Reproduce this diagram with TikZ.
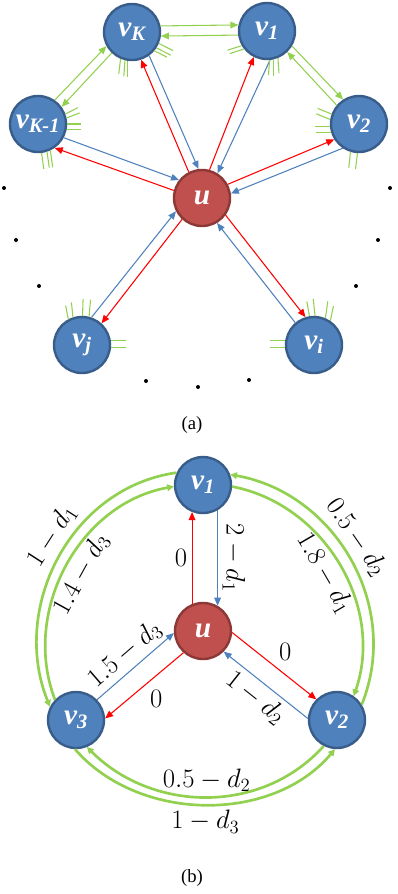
\RequirePackage{fix-cm}
\documentclass[tikz,border=0pt]{standalone}
\usepackage[no-math]{fontspec}
\setmainfont{Liberation Serif}
\usepackage{xcolor}
\usepackage{tikz}
\usetikzlibrary{arrows.meta}

\definecolor{nodeblue}{RGB}{79,129,189}
\definecolor{nodeedge}{RGB}{56,93,138}
\definecolor{hubred}{RGB}{192,80,77}
\definecolor{hubedge}{RGB}{140,56,54}
\definecolor{lgreen}{RGB}{146,208,80}

\begin{document}
\begin{tikzpicture}[x=0.75pt, y=0.75pt,
  vtx/.style={circle, draw=nodeedge, fill=nodeblue, line width=1.8pt,
              minimum size=42pt, inner sep=0pt, text=white,
              font=\fontsize{22}{26}\selectfont\bfseries\itshape},
  hub/.style={vtx, draw=hubedge, fill=hubred},
  rarw/.style={-{Triangle[length=6pt,width=5pt]}, red, line width=0.8pt},
  barw/.style={-{Triangle[length=6pt,width=5pt]}, nodeblue, line width=0.8pt},
  garw/.style={-{Triangle[length=6pt,width=5pt]}, lgreen, line width=0.8pt},
  garc/.style={-{Triangle[length=5pt,width=5pt]}, lgreen, line width=2pt},
  gstub/.style={lgreen, line width=0.8pt},
  lbl/.style={font=\fontsize{20}{24}\selectfont, text=black},
  captxt/.style={font=\fontsize{14}{17}\selectfont}]
  \useasboundingbox (0,0) rectangle (398,-894);

  % (a) star around u
  \node[vtx] (vK)  at (132,-32)  {v\textsubscript{K}};
  \node[vtx] (v1)  at (267,-31)  {v\textsubscript{1}};
  \node[vtx] (vKm) at (38,-124)  {v\textsubscript{K-1}};
  \node[vtx] (v2)  at (359,-124) {v\textsubscript{2}};
  \node[hub] (u)   at (202,-198) {u};
  \node[vtx] (vj)  at (82,-345)  {v\textsubscript{j}};
  \node[vtx] (vi)  at (314,-345) {v\textsubscript{i}};

  \draw[garw] (vK.12) -- (v1.168);
  \draw[garw] (v1.188) -- (vK.-8);
  \draw[garw] (vKm.55) -- (vK.209);
  \draw[garw] (vK.226) -- (vKm.36);
  \draw[garw] (v1.-31) -- (v2.123);
  \draw[garw] (v2.140) -- (v1.-46);

  \draw[rarw] (u.117) -- (vK.-72);
  \draw[barw] (vK.-54) -- (u.97);
  \draw[rarw] (u.75) -- (v1.-117);
  \draw[barw] (v1.-84) -- (u.58);
  \draw[rarw] (u.165) -- (vKm.-55);
  \draw[barw] (vKm.-28) -- (u.142);
  \draw[rarw] (u.28) -- (v2.212);
  \draw[barw] (v2.236) -- (u.9);
  \draw[rarw] (u.227) -- (vj.48);
  \draw[barw] (vj.71) -- (u.207);
  \draw[rarw] (u.-36) -- (vi.107);
  \draw[barw] (vi.130) -- (u.-59);

  % stubs of the hidden edges
  \draw[gstub] (vK.-23) -- ++(-27:16);
  \draw[gstub] (vK.-33) -- ++(-27:16);
  \draw[gstub] (vK.-40) -- ++(-27:14);
  \draw[gstub] (vK.-113) -- ++(-97:15);
  \draw[gstub] (vK.-104) -- ++(-94:16);
  \draw[gstub] (vK.-98) -- ++(-90:16);
  \draw[gstub] (v1.-150) -- ++(198:15);
  \draw[gstub] (v1.-142) -- ++(198:15);
  \draw[gstub] (v1.-85) -- ++(-94:15);
  \draw[gstub] (v1.-78) -- ++(-90:16);
  \draw[gstub] (v1.-68) -- ++(-86:15);
  \draw[gstub] (vKm.20) -- ++(27:14);
  \draw[gstub] (vKm.12) -- ++(21:14);
  \draw[gstub] (vKm.0) -- ++(0:14);
  \draw[gstub] (vKm.-11) -- ++(0:14);
  \draw[gstub] (vKm.-83) -- ++(-82:16);
  \draw[gstub] (vKm.-72) -- ++(-82:16);
  \draw[gstub] (vKm.-65) -- ++(-82:17);
  \draw[gstub] (v2.160) -- ++(158:15);
  \draw[gstub] (v2.171) -- ++(158:15);
  \draw[gstub] (v2.185) -- ++(180:15);
  \draw[gstub] (v2.196) -- ++(180:15);
  \draw[gstub] (v2.-107) -- ++(-96:16);
  \draw[gstub] (v2.-93) -- ++(-97:16);
  \draw[gstub] (vj.118) -- ++(101:14);
  \draw[gstub] (vj.108) -- ++(96:15);
  \draw[gstub] (vj.89) -- ++(88:17);
  \draw[gstub] (vj.76) -- ++(85:17);
  \draw[gstub] (vj.8) -- ++(0:15);
  \draw[gstub] (vj.-4) -- ++(0:15);
  \draw[gstub] (vi.99) -- ++(100:15);
  \draw[gstub] (vi.88) -- ++(96:17);
  \draw[gstub] (vi.67) -- ++(82:17);
  \draw[gstub] (vi.56) -- ++(78:15);
  \draw[gstub] (vi.172) -- ++(180:15);
  \draw[gstub] (vi.184) -- ++(180:15);

  % dots for the other neighbours
  \fill (4,-188) circle[radius=2];
  \fill (16,-240) circle[radius=2];
  \fill (39,-286) circle[radius=2];
  \fill (390,-188) circle[radius=2];
  \fill (378,-240) circle[radius=2];
  \fill (356,-286) circle[radius=2];
  \fill (146,-381) circle[radius=2];
  \fill (198,-387) circle[radius=2];
  \fill (249,-380) circle[radius=2];

  \node[captxt] (capa) at (192,-425) {(a)};

  % (b) three neighbours
  \node[vtx] (v1b) at (203,-485) {v\textsubscript{1}};
  \node[hub] (ub)  at (203,-631) {u};
  \node[vtx] (v3b) at (76,-720)  {v\textsubscript{3}};
  \node[vtx] (v2b) at (337,-720) {v\textsubscript{2}};

  \draw[rarw] (ub.112) -- node[lbl, left] {$0$} (v1b.248);
  \draw[barw] (v1b.-60) -- node[lbl, above, sloped] {$2-d_1$} (ub.60);
  \draw[rarw] (ub.-3) -- node[lbl, above right] {$0$} (v2b.135);
  \draw[barw] (v2b.177) -- node[lbl, below, sloped] {$1-d_2$} (ub.-45);
  \draw[barw] (v3b.44) -- node[lbl, above, sloped] {$1.5-d_3$} (ub.184);
  \draw[rarw] (ub.228) -- node[lbl, below, xshift=9] {$0$} (v3b.3);

  \draw[garc] (v1b.155) to[out=188, in=112, looseness=1.03]
    node[lbl, above, sloped, pos=0.45] {$1-d_1$} (v3b.153);
  \draw[garc] (v3b.136) to[out=111, in=190]
    node[lbl, below, sloped] {$1.4-d_3$} (v1b.183);
  \draw[garc] (v2b.32) to[out=68, in=-10, looseness=1.03]
    node[lbl, above, sloped, pos=0.55] {$0.5-d_2$} (v1b.21);
  \draw[garc] (v1b.-3) to[out=-11, in=71]
    node[lbl, below, sloped] {$1.8-d_1$} (v2b.55);
  \draw[garc] (v3b.-92) to[out=-49, in=230, looseness=0.96]
    node[lbl, below, sloped] {$1-d_3$} (v2b.-94);
  \draw[garc] (v2b.-117) to[out=228, in=-45]
    node[lbl, above, sloped] {$0.5-d_2$} (v3b.-68);

  \node[captxt] (capb) at (192,-878) {(b)};
\end{tikzpicture}
\end{document}
